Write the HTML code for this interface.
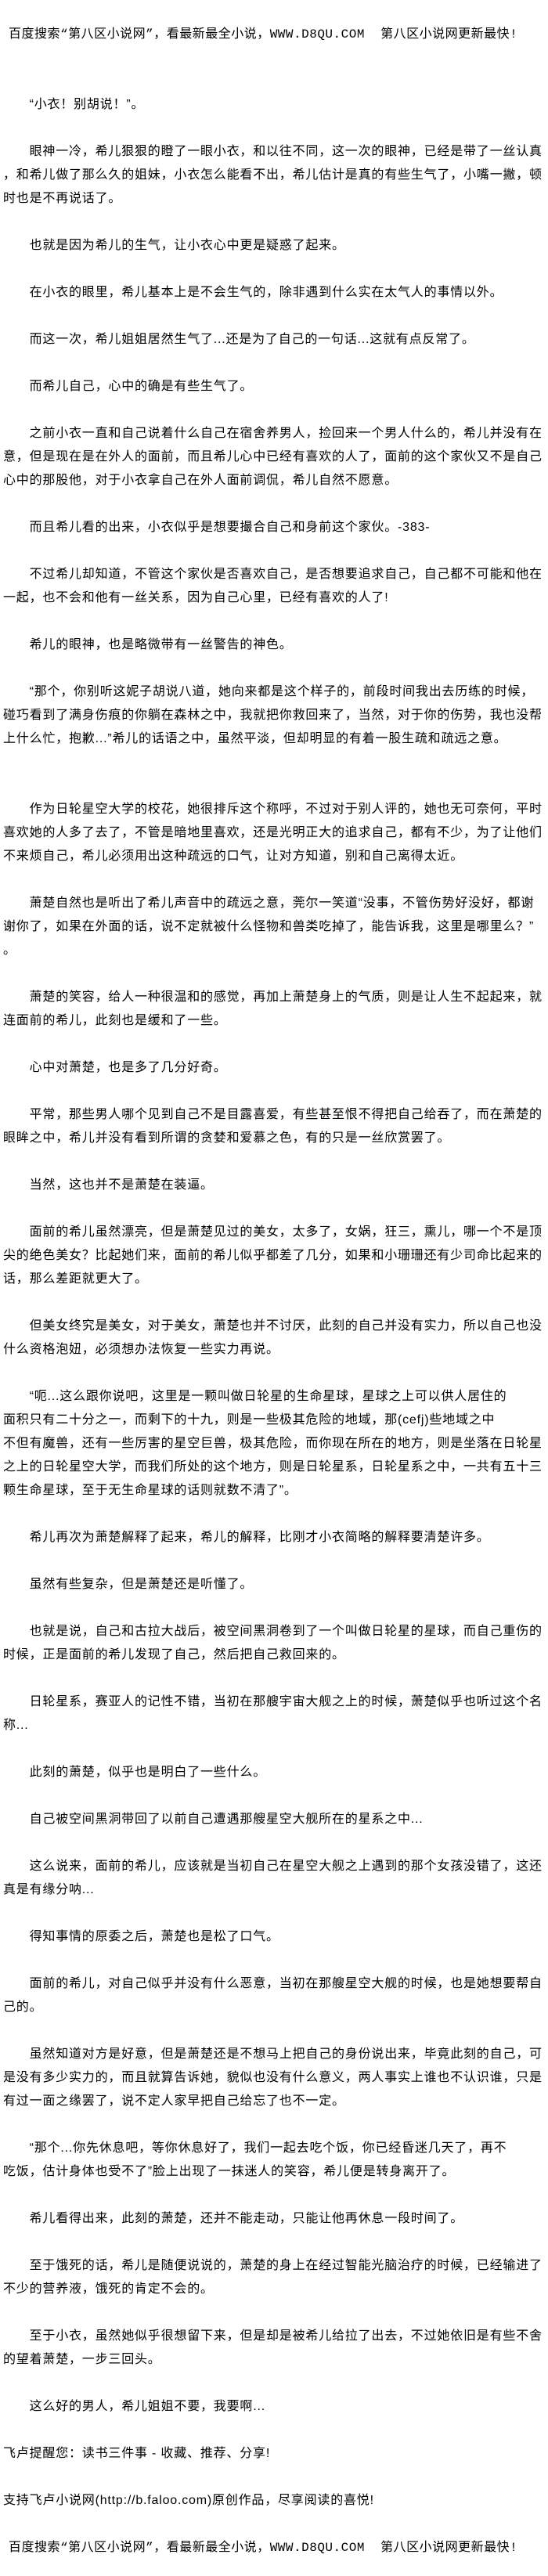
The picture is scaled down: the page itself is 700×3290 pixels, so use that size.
<!DOCTYPE html>
<html><head><meta charset="utf-8">
<style>
html,body{margin:0;padding:0;background:#fff;}
body{width:700px;height:3290px;overflow:hidden;}
#w{padding-top:29px;padding-left:4px;font-family:"Liberation Sans","Noto Sans CJK SC",sans-serif;font-size:16px;letter-spacing:0.8px;color:#000;}
#w div{height:30px;line-height:30px;white-space:nowrap;}
.h{padding-left:7px;font-family:"Liberation Mono","Noto Sans CJK SC",monospace;letter-spacing:0.5px;}
</style></head><body><div id="w">
<div class="h">百度搜索“第八区小说网”，看最新最全小说，WWW.D8QU.COM&nbsp;&nbsp;第八区小说网更新最快!</div>
<div></div><div></div>
<div>　　“小衣！别胡说！”。</div>
<div></div>
<div>　　眼神一冷，希儿狠狠的瞪了一眼小衣，和以往不同，这一次的眼神，已经是带了一丝认真</div>
<div>，和希儿做了那么久的姐妹，小衣怎么能看不出，希儿估计是真的有些生气了，小嘴一撇，顿</div>
<div>时也是不再说话了。</div>
<div></div>
<div>　　也就是因为希儿的生气，让小衣心中更是疑惑了起来。</div>
<div></div>
<div>　　在小衣的眼里，希儿基本上是不会生气的，除非遇到什么实在太气人的事情以外。</div>
<div></div>
<div>　　而这一次，希儿姐姐居然生气了...还是为了自己的一句话...这就有点反常了。</div>
<div></div>
<div>　　而希儿自己，心中的确是有些生气了。</div>
<div></div>
<div>　　之前小衣一直和自己说着什么自己在宿舍养男人，捡回来一个男人什么的，希儿并没有在</div>
<div>意，但是现在是在外人的面前，而且希儿心中已经有喜欢的人了，面前的这个家伙又不是自己</div>
<div>心中的那股他，对于小衣拿自己在外人面前调侃，希儿自然不愿意。</div>
<div></div>
<div>　　而且希儿看的出来，小衣似乎是想要撮合自己和身前这个家伙。-383-</div>
<div></div>
<div>　　不过希儿却知道，不管这个家伙是否喜欢自己，是否想要追求自己，自己都不可能和他在</div>
<div>一起，也不会和他有一丝关系，因为自己心里，已经有喜欢的人了!</div>
<div></div>
<div>　　希儿的眼神，也是略微带有一丝警告的神色。</div>
<div></div>
<div>　　“那个，你别听这妮子胡说八道，她向来都是这个样子的，前段时间我出去历练的时候，</div>
<div>碰巧看到了满身伤痕的你躺在森林之中，我就把你救回来了，当然，对于你的伤势，我也没帮</div>
<div>上什么忙，抱歉...”希儿的话语之中，虽然平淡，但却明显的有着一股生疏和疏远之意。</div>
<div></div><div></div>
<div>　　作为日轮星空大学的校花，她很排斥这个称呼，不过对于别人评的，她也无可奈何，平时</div>
<div>喜欢她的人多了去了，不管是暗地里喜欢，还是光明正大的追求自己，都有不少，为了让他们</div>
<div>不来烦自己，希儿必须用出这种疏远的口气，让对方知道，别和自己离得太近。</div>
<div></div>
<div>　　萧楚自然也是听出了希儿声音中的疏远之意，莞尔一笑道“没事，不管伤势好没好，都谢</div>
<div>谢你了，如果在外面的话，说不定就被什么怪物和兽类吃掉了，能告诉我，这里是哪里么？”</div>
<div>。</div>
<div></div>
<div>　　萧楚的笑容，给人一种很温和的感觉，再加上萧楚身上的气质，则是让人生不起起来，就</div>
<div>连面前的希儿，此刻也是缓和了一些。</div>
<div></div>
<div>　　心中对萧楚，也是多了几分好奇。</div>
<div></div>
<div>　　平常，那些男人哪个见到自己不是目露喜爱，有些甚至恨不得把自己给吞了，而在萧楚的</div>
<div>眼眸之中，希儿并没有看到所谓的贪婪和爱慕之色，有的只是一丝欣赏罢了。</div>
<div></div>
<div>　　当然，这也并不是萧楚在装逼。</div>
<div></div>
<div>　　面前的希儿虽然漂亮，但是萧楚见过的美女，太多了，女娲，狂三，熏儿，哪一个不是顶</div>
<div>尖的绝色美女？比起她们来，面前的希儿似乎都差了几分，如果和小珊珊还有少司命比起来的</div>
<div>话，那么差距就更大了。</div>
<div></div>
<div>　　但美女终究是美女，对于美女，萧楚也并不讨厌，此刻的自己并没有实力，所以自己也没</div>
<div>什么资格泡妞，必须想办法恢复一些实力再说。</div>
<div></div>
<div>　　“呃...这么跟你说吧，这里是一颗叫做日轮星的生命星球，星球之上可以供人居住的</div>
<div>面积只有二十分之一，而剩下的十九，则是一些极其危险的地域，那(cefj)些地域之中</div>
<div>不但有魔兽，还有一些厉害的星空巨兽，极其危险，而你现在所在的地方，则是坐落在日轮星</div>
<div>之上的日轮星空大学，而我们所处的这个地方，则是日轮星系，日轮星系之中，一共有五十三</div>
<div>颗生命星球，至于无生命星球的话则就数不清了”。</div>
<div></div>
<div>　　希儿再次为萧楚解释了起来，希儿的解释，比刚才小衣简略的解释要清楚许多。</div>
<div></div>
<div>　　虽然有些复杂，但是萧楚还是听懂了。</div>
<div></div>
<div>　　也就是说，自己和古拉大战后，被空间黑洞卷到了一个叫做日轮星的星球，而自己重伤的</div>
<div>时候，正是面前的希儿发现了自己，然后把自己救回来的。</div>
<div></div>
<div>　　日轮星系，赛亚人的记性不错，当初在那艘宇宙大舰之上的时候，萧楚似乎也听过这个名</div>
<div>称...</div>
<div></div>
<div>　　此刻的萧楚，似乎也是明白了一些什么。</div>
<div></div>
<div>　　自己被空间黑洞带回了以前自己遭遇那艘星空大舰所在的星系之中...</div>
<div></div>
<div>　　这么说来，面前的希儿，应该就是当初自己在星空大舰之上遇到的那个女孩没错了，这还</div>
<div>真是有缘分呐...</div>
<div></div>
<div>　　得知事情的原委之后，萧楚也是松了口气。</div>
<div></div>
<div>　　面前的希儿，对自己似乎并没有什么恶意，当初在那艘星空大舰的时候，也是她想要帮自</div>
<div>己的。</div>
<div></div>
<div>　　虽然知道对方是好意，但是萧楚还是不想马上把自己的身份说出来，毕竟此刻的自己，可</div>
<div>是没有多少实力的，而且就算告诉她，貌似也没有什么意义，两人事实上谁也不认识谁，只是</div>
<div>有过一面之缘罢了，说不定人家早把自己给忘了也不一定。</div>
<div></div>
<div>　　“那个...你先休息吧，等你休息好了，我们一起去吃个饭，你已经昏迷几天了，再不</div>
<div>吃饭，估计身体也受不了”脸上出现了一抹迷人的笑容，希儿便是转身离开了。</div>
<div></div>
<div>　　希儿看得出来，此刻的萧楚，还并不能走动，只能让他再休息一段时间了。</div>
<div></div>
<div>　　至于饿死的话，希儿是随便说说的，萧楚的身上在经过智能光脑治疗的时候，已经输进了</div>
<div>不少的营养液，饿死的肯定不会的。</div>
<div></div>
<div>　　至于小衣，虽然她似乎很想留下来，但是却是被希儿给拉了出去，不过她依旧是有些不舍</div>
<div>的望着萧楚，一步三回头。</div>
<div></div>
<div>　　这么好的男人，希儿姐姐不要，我要啊...</div>
<div></div>
<div>飞卢提醒您：读书三件事 - 收藏、推荐、分享!</div>
<div></div>
<div>支持飞卢小说网(http://b.faloo.com)原创作品，尽享阅读的喜悦!</div>
<div></div>
<div class="h">百度搜索“第八区小说网”，看最新最全小说，WWW.D8QU.COM&nbsp;&nbsp;第八区小说网更新最快!</div>
</div></body></html>
